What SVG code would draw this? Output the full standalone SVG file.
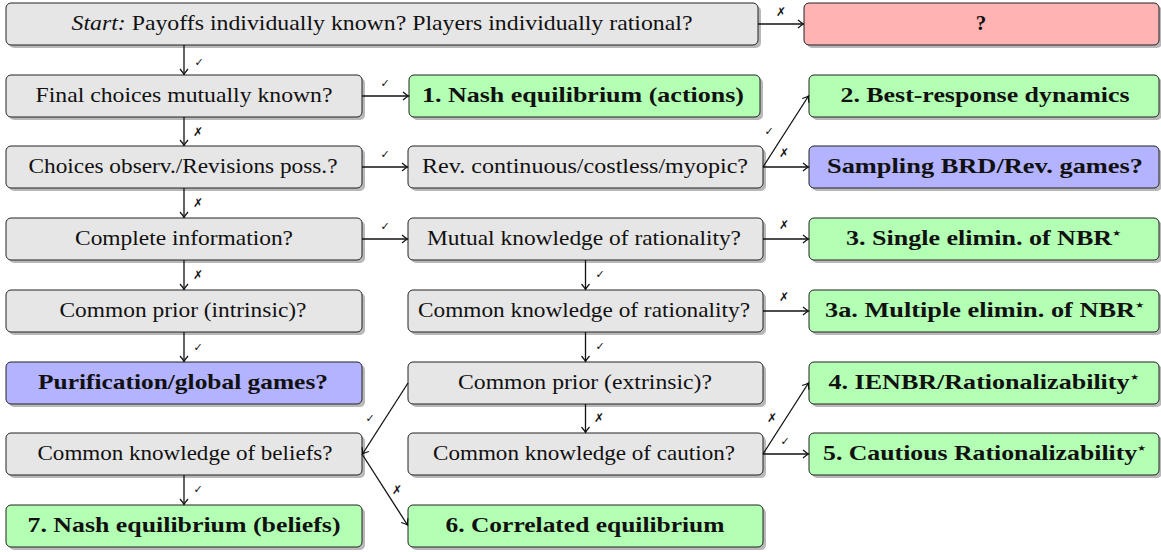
<svg xmlns="http://www.w3.org/2000/svg" width="1161" height="552" viewBox="0 0 1161 552">
<style>
.sh{fill:#b8b8b8;}
.q{fill:#e6e6e6;stroke:#222;stroke-width:1;}
.g{fill:#b3ffb3;stroke:#222;stroke-width:1;}
.r{fill:#ffb3b3;stroke:#222;stroke-width:1;}
.b{fill:#b3b3ff;stroke:#222;stroke-width:1;}
.t{font-family:"Liberation Serif",serif;font-size:21px;fill:#111;text-anchor:middle;}
.tb{font-family:"Liberation Serif",serif;font-size:21px;font-weight:bold;fill:#111;text-anchor:middle;}
.c{fill:none;stroke:#111;stroke-width:1.3;marker-end:url(#ah);}
.lb{font-family:"DejaVu Sans",sans-serif;font-size:12px;fill:#111;text-anchor:middle;}
.ck{font-size:11px;}
</style>
<defs>
<marker id="ah" markerUnits="userSpaceOnUse" markerWidth="12" markerHeight="12" viewBox="-7 -6 8 12" refX="0" refY="0" orient="auto">
<path d="M-5.5,-4 Q-2,-1 0,0 Q-2,1 -5.5,4" fill="none" stroke="#111" stroke-width="1.2"/>
</marker>
</defs>

<g id="start">
<rect class="sh" x="9" y="6" width="752" height="42" rx="5"/>
<rect class="q" x="6" y="3" width="752" height="42" rx="5"/>
<text class="t" x="382" y="30" textLength="621" lengthAdjust="spacingAndGlyphs"><tspan font-style="italic">Start:</tspan> Payoffs individually known? Players individually rational?</text>
</g>
<g id="unknown">
<rect class="sh" x="807" y="6" width="355" height="42" rx="5"/>
<rect class="r" x="804" y="3" width="355" height="42" rx="5"/>
<text class="tb" x="981" y="30">?</text>
</g>

<g id="final-choices">
<rect class="sh" x="9" y="78" width="356" height="42" rx="5"/>
<rect class="q" x="6" y="75" width="356" height="42" rx="5"/>
<text class="t" x="184" y="102" textLength="297" lengthAdjust="spacingAndGlyphs">Final choices mutually known?</text>
</g>
<g id="nash-actions">
<rect class="sh" x="412" y="78" width="351" height="42" rx="5"/>
<rect class="g" x="409" y="75" width="351" height="42" rx="5"/>
<text class="tb" x="583" y="102" textLength="322" lengthAdjust="spacingAndGlyphs">1. Nash equilibrium (actions)</text>
</g>
<g id="best-response">
<rect class="sh" x="812" y="78" width="350" height="42" rx="5"/>
<rect class="g" x="809" y="75" width="350" height="42" rx="5"/>
<text class="tb" x="985" y="102" textLength="289" lengthAdjust="spacingAndGlyphs">2. Best-response dynamics</text>
</g>

<g id="choices-observ">
<rect class="sh" x="9" y="149" width="356" height="42" rx="5"/>
<rect class="q" x="6" y="146" width="356" height="42" rx="5"/>
<text class="t" x="183" y="173" textLength="309" lengthAdjust="spacingAndGlyphs">Choices observ./Revisions poss.?</text>
</g>
<g id="rev-continuous">
<rect class="sh" x="411" y="149" width="355" height="42" rx="5"/>
<rect class="q" x="408" y="146" width="355" height="42" rx="5"/>
<text class="t" x="585" y="173" textLength="326" lengthAdjust="spacingAndGlyphs">Rev. continuous/costless/myopic?</text>
</g>
<g id="sampling-brd">
<rect class="sh" x="812" y="149" width="350" height="42" rx="5"/>
<rect class="b" x="809" y="146" width="350" height="42" rx="5"/>
<text class="tb" x="985" y="173" textLength="316" lengthAdjust="spacingAndGlyphs">Sampling BRD/Rev. games?</text>
</g>

<g id="complete-info">
<rect class="sh" x="9" y="221" width="356" height="42" rx="5"/>
<rect class="q" x="6" y="218" width="356" height="42" rx="5"/>
<text class="t" x="184" y="245" textLength="218" lengthAdjust="spacingAndGlyphs">Complete information?</text>
</g>
<g id="mutual-knowledge">
<rect class="sh" x="411" y="221" width="355" height="42" rx="5"/>
<rect class="q" x="408" y="218" width="355" height="42" rx="5"/>
<text class="t" x="584" y="245" textLength="314" lengthAdjust="spacingAndGlyphs">Mutual knowledge of rationality?</text>
</g>
<g id="single-elim">
<rect class="sh" x="812" y="221" width="350" height="42" rx="5"/>
<rect class="g" x="809" y="218" width="350" height="42" rx="5"/>
<text class="tb" x="984" y="245" textLength="276" lengthAdjust="spacingAndGlyphs">3. Single elimin. of NBR<tspan font-size="12" dy="-8">⋆</tspan></text>
</g>

<g id="common-prior-intrinsic">
<rect class="sh" x="9" y="293" width="356" height="42" rx="5"/>
<rect class="q" x="6" y="290" width="356" height="42" rx="5"/>
<text class="t" x="183" y="317" textLength="247" lengthAdjust="spacingAndGlyphs">Common prior (intrinsic)?</text>
</g>
<g id="common-knowledge-rationality">
<rect class="sh" x="411" y="293" width="355" height="42" rx="5"/>
<rect class="q" x="408" y="290" width="355" height="42" rx="5"/>
<text class="t" x="584" y="317" textLength="332" lengthAdjust="spacingAndGlyphs">Common knowledge of rationality?</text>
</g>
<g id="multiple-elim">
<rect class="sh" x="812" y="293" width="350" height="42" rx="5"/>
<rect class="g" x="809" y="290" width="350" height="42" rx="5"/>
<text class="tb" x="985" y="317" textLength="320" lengthAdjust="spacingAndGlyphs">3a. Multiple elimin. of NBR<tspan font-size="12" dy="-8">⋆</tspan></text>
</g>

<g id="purification">
<rect class="sh" x="9" y="365" width="356" height="42" rx="5"/>
<rect class="b" x="6" y="362" width="356" height="42" rx="5"/>
<text class="tb" x="183" y="389" textLength="290" lengthAdjust="spacingAndGlyphs">Purification/global games?</text>
</g>
<g id="common-prior-extrinsic">
<rect class="sh" x="411" y="365" width="355" height="42" rx="5"/>
<rect class="q" x="408" y="362" width="355" height="42" rx="5"/>
<text class="t" x="585" y="389" textLength="254" lengthAdjust="spacingAndGlyphs">Common prior (extrinsic)?</text>
</g>
<g id="ienbr">
<rect class="sh" x="812" y="365" width="350" height="42" rx="5"/>
<rect class="g" x="809" y="362" width="350" height="42" rx="5"/>
<text class="tb" x="984" y="389" textLength="311" lengthAdjust="spacingAndGlyphs">4. IENBR/Rationalizability<tspan font-size="12" dy="-8">⋆</tspan></text>
</g>

<g id="ck-beliefs">
<rect class="sh" x="9" y="436" width="356" height="42" rx="5"/>
<rect class="q" x="6" y="433" width="356" height="42" rx="5"/>
<text class="t" x="185" y="460" textLength="295" lengthAdjust="spacingAndGlyphs">Common knowledge of beliefs?</text>
</g>
<g id="ck-caution">
<rect class="sh" x="411" y="436" width="355" height="42" rx="5"/>
<rect class="q" x="408" y="433" width="355" height="42" rx="5"/>
<text class="t" x="584" y="460" textLength="302" lengthAdjust="spacingAndGlyphs">Common knowledge of caution?</text>
</g>
<g id="cautious-rat">
<rect class="sh" x="812" y="436" width="350" height="42" rx="5"/>
<rect class="g" x="809" y="433" width="350" height="42" rx="5"/>
<text class="tb" x="985" y="460" textLength="324" lengthAdjust="spacingAndGlyphs">5. Cautious Rationalizability<tspan font-size="12" dy="-8">⋆</tspan></text>
</g>

<g id="nash-beliefs">
<rect class="sh" x="9" y="508" width="356" height="42" rx="5"/>
<rect class="g" x="6" y="505" width="356" height="42" rx="5"/>
<text class="tb" x="184" y="532" textLength="313" lengthAdjust="spacingAndGlyphs">7. Nash equilibrium (beliefs)</text>
</g>
<g id="correlated">
<rect class="sh" x="411" y="508" width="355" height="42" rx="5"/>
<rect class="g" x="408" y="505" width="355" height="42" rx="5"/>
<text class="tb" x="585" y="532" textLength="279" lengthAdjust="spacingAndGlyphs">6. Correlated equilibrium</text>
</g>

<g id="connectors">
<path class="c" d="M758,24 H803.5"/>
<path class="c" d="M184,45 V74.5"/>
<path class="c" d="M362,96 H408.5"/>
<path class="c" d="M184,117 V145.5"/>
<path class="c" d="M362,167 H407.5"/>
<path class="c" d="M763,167 L808.5,96"/>
<path class="c" d="M763,167 H808.5"/>
<path class="c" d="M184,188 V217.5"/>
<path class="c" d="M362,239 H407.5"/>
<path class="c" d="M763,239 H808.5"/>
<path class="c" d="M184,260 V289.5"/>
<path class="c" d="M585.5,260 V289.5"/>
<path class="c" d="M763,311 H808.5"/>
<path class="c" d="M184,332 V361.5"/>
<path class="c" d="M585.5,332 V361.5"/>
<path class="c" d="M408,383 L362.5,454"/>
<path class="c" d="M585.5,404 V432.5"/>
<path class="c" d="M362,454 L407.5,525"/>
<path class="c" d="M184,475 V504.5"/>
<path class="c" d="M763,454 L808.5,383"/>
<path class="c" d="M763,454 H808.5"/>
<text class="lb" x="781" y="16">✗</text>
<text class="lb ck" x="199" y="66">✓</text>
<text class="lb ck" x="385" y="87">✓</text>
<text class="lb" x="198" y="136">✗</text>
<text class="lb ck" x="385" y="158">✓</text>
<text class="lb ck" x="769" y="135">✓</text>
<text class="lb" x="784" y="157">✗</text>
<text class="lb" x="198" y="207">✗</text>
<text class="lb ck" x="385" y="230">✓</text>
<text class="lb" x="784" y="229">✗</text>
<text class="lb" x="198" y="279">✗</text>
<text class="lb ck" x="600" y="278">✓</text>
<text class="lb" x="784" y="301">✗</text>
<text class="lb ck" x="198" y="351">✓</text>
<text class="lb ck" x="600" y="350">✓</text>
<text class="lb ck" x="370" y="422">✓</text>
<text class="lb" x="599" y="422">✗</text>
<text class="lb" x="397" y="494">✗</text>
<text class="lb ck" x="198" y="493">✓</text>
<text class="lb" x="772" y="422">✗</text>
<text class="lb ck" x="785" y="445">✓</text>
</g>
</svg>
